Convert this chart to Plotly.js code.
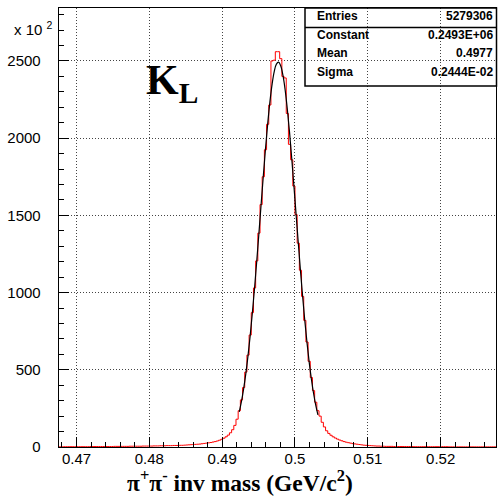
<!DOCTYPE html>
<html>
<head>
<meta charset="utf-8">
<script src="https://cdn.plot.ly/plotly-3.0.1.min.js"></script>
<style>html,body{margin:0;padding:0;background:#fff;}</style>
</head>
<body>
<div id="chart" style="width:498px;height:497px;"></div>
<script>
// ---- data ----
const binLow = 0.4676;     // lower edge of histogram (GeV/c^2)
const binWidth = 0.0003;   // bin width
// bin contents, in units of 10^2 entries (200 bins)
const counts = [
  1,1,2,2,2,2,2,2,2,2,
  2,2,2,2,3,3,3,3,3,3,
  3,3,3,3,3,4,4,4,4,4,
  4,4,5,5,5,5,5,5,6,6,
  6,6,6,7,7,7,8,8,8,9,
  9,9,10,10,10,11,11,12,13,14,
  15,16,17,18,19,21,23,25,27,29,
  32,35,39,44,50,57,66,77,92,112,
  140,180,235,305,385,485,595,725,870,1030,
  1205,1385,1570,1750,1925,2090,2215,2500,2505,2560,
  2560,2515,2400,2390,2160,1960,1860,1690,1505,1320,
  1145,975,820,680,555,450,365,290,235,200,
  160,130,105,88,76,66,58,51,45,40,
  35,31,28,25,22,20,18,16,14,12,
  11,10,9,8,7,6,6,5,5,4,
  4,4,4,3,3,3,3,3,3,3,
  3,3,2,2,2,2,2,2,2,2,
  2,2,2,2,2,2,2,2,1,1,
  1,1,1,1,1,1,1,1,1,1,
  1,1,1,1,1,1,1,1,1,1
];
// gaussian fit curve read at bin centres, starting at bin index fitFirstBin
const fitFirstBin = 82;
const fitValues = [
  227,295,377,475,590,721,869,1030,1203,1385,
  1570,1753,1930,2091,2232,2347,2431,2480,2492,2468,
  2406,2312,2187,2039,1872,1693,1508,1324,1144,975,
  818,676,550,441,348,271,208
];
const xTickVals = [0.47, 0.48, 0.49, 0.50, 0.51, 0.52];
const xTickText = ["0.47", "0.48", "0.49", "0.5", "0.51", "0.52"];
const yTickVals = [0, 500, 1000, 1500, 2000, 2500];
const yTickText = ["0", "500", "1000", "1500", "2000", "2500"];
const statNames = ["Entries", "Constant", "Mean", "Sigma"];
const statValues = ["5279306", "0.2493E+06", "0.4977", "0.2444E-02"];
const xRange = [0.4676, 0.5276];
const yRange = [0, 2843];

// ---- traces ----
const nb = counts.length;
const hx = [], hy = [];
for (let i = 0; i < nb; i++) { hx.push(binLow + i * binWidth); hy.push(counts[i]); }
hx.push(binLow + nb * binWidth); hy.push(counts[nb - 1]);

const fx = fitValues.map((v, k) => binLow + (fitFirstBin + k + 0.5) * binWidth);

const histTrace = {
  x: hx, y: hy, type: 'scatter', mode: 'lines',
  line: {color: '#ff0000', width: 1, shape: 'hv'}, hoverinfo: 'skip'
};
const fitTrace = {
  x: fx, y: fitValues, type: 'scatter', mode: 'lines',
  line: {color: '#000000', width: 1.2, shape: 'spline'}, hoverinfo: 'skip'
};

// ---- layout helpers (pixel -> paper) ----
const W = 498, H = 497, mL = 59, mR = 2, mT = 8, mB = 50;
const PW = W - mL - mR, PH = H - mT - mB;
const px = v => (v - mL) / PW;
const py = v => (H - mB - v) / PH;

const sans = 'Liberation Sans, Arial, Helvetica, sans-serif';
const serif = 'Liberation Serif, Times New Roman, Times, serif';

const annotations = [
  {xref: 'paper', yref: 'paper', x: px(12), y: py(29), xanchor: 'left', yanchor: 'middle',
   text: 'x 10 <sup>2</sup>', showarrow: false, font: {family: sans, size: 15, color: '#000'}},
  {xref: 'paper', yref: 'paper', x: px(144), y: py(55), xanchor: 'left', yanchor: 'top',
   text: 'K<sub>L</sub>', showarrow: false, font: {family: serif, size: 42, color: '#000', weight: 'bold'}},
  {xref: 'paper', yref: 'paper', x: px(240), y: py(481), xanchor: 'center', yanchor: 'middle',
   text: 'π<sup>+</sup>π<sup>-</sup> inv mass (GeV/c<sup>2</sup>)', showarrow: false,
   font: {family: serif, size: 23.5, color: '#000', weight: 'bold'}}
];
const rowY = [16, 35, 53, 72];
statNames.forEach((n, i) => {
  annotations.push({xref: 'paper', yref: 'paper', x: px(315), y: py(rowY[i]), xanchor: 'left', yanchor: 'middle',
    text: n, showarrow: false, font: {family: sans, size: 12, color: '#000', weight: 'bold'}});
  annotations.push({xref: 'paper', yref: 'paper', x: px(495), y: py(rowY[i]), xanchor: 'right', yanchor: 'middle',
    text: statValues[i], showarrow: false, font: {family: sans, size: 12, color: '#000', weight: 'bold'}});
});

const shapes = [
  {type: 'rect', xref: 'paper', yref: 'paper', x0: px(305), x1: px(496.5), y0: py(86), y1: py(8),
   line: {color: '#000', width: 1.5}, fillcolor: 'rgba(0,0,0,0)'},
  {type: 'line', xref: 'paper', yref: 'paper', x0: px(305), x1: px(496.5), y0: py(27.5), y1: py(27.5),
   line: {color: '#000', width: 1.5}}
];

const axisCommon = {
  showline: true, mirror: true, linecolor: '#000', linewidth: 1.3,
  ticks: 'inside', ticklen: 10, tickwidth: 1, tickcolor: '#000',
  showgrid: true, gridcolor: '#444', gridwidth: 1, griddash: '1px,2px',
  zeroline: false, tickmode: 'array',
  tickfont: {family: sans, size: 15, color: '#000'}
};

const layout = Object.assign({
  width: W, height: H,
  margin: {l: mL, r: mR, t: mT, b: mB, pad: 0},
  paper_bgcolor: '#fff', plot_bgcolor: '#fff',
  showlegend: false,
  xaxis: Object.assign({}, axisCommon, {
    range: xRange, tickvals: xTickVals, ticktext: xTickText, ticklabelstandoff: -2,
    minor: {tickmode: 'linear', tick0: 0.47, dtick: 0.002, ticks: 'inside', ticklen: 5, tickcolor: '#000', showgrid: false}
  }),
  yaxis: Object.assign({}, axisCommon, {
    range: yRange, tickvals: yTickVals, ticktext: yTickText, ticklabelstandoff: 14,
    minor: {tickmode: 'linear', tick0: 0, dtick: 100, ticks: 'inside', ticklen: 5, tickcolor: '#000', showgrid: false}
  }),
  annotations: annotations,
  shapes: shapes
});

Plotly.newPlot('chart', [histTrace, fitTrace], layout, {displayModeBar: false, staticPlot: true});
</script>
</body>
</html>
